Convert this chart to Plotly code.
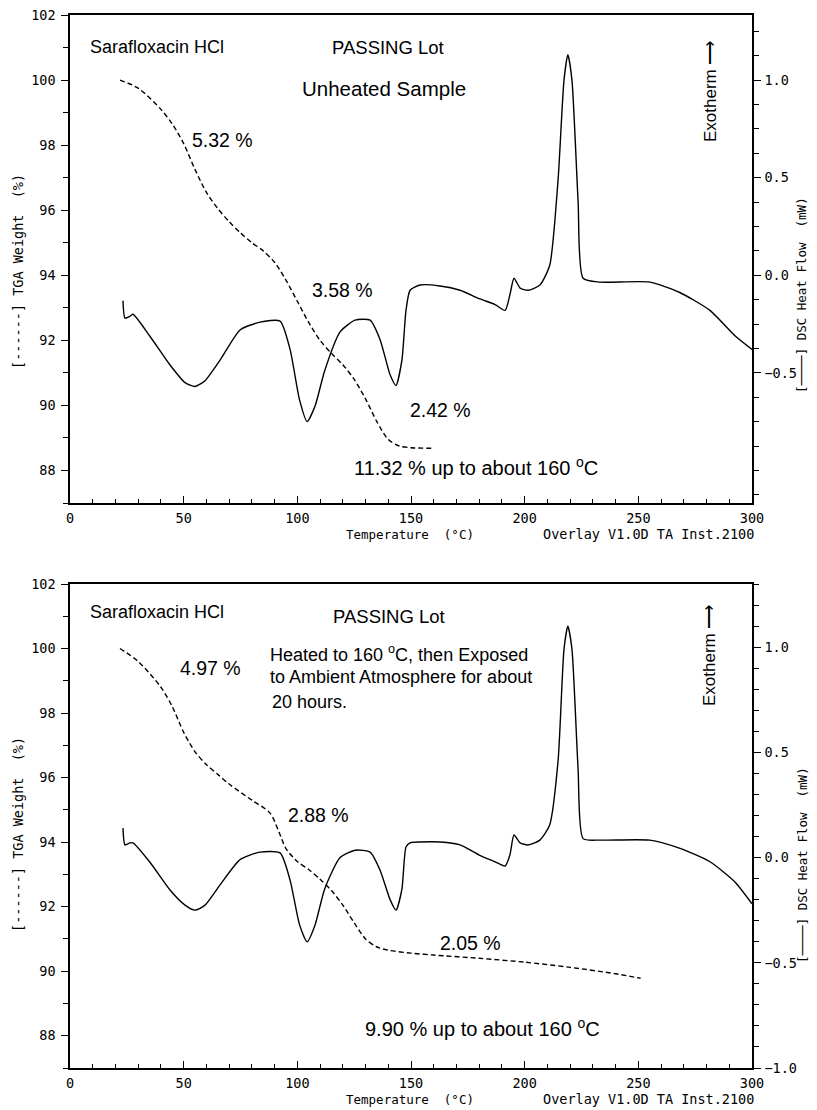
import plotly.graph_objects as go

# ---------------- data ----------------
# Top panel: unheated sample
tga1_T = [22, 30, 40, 45, 50, 55, 60, 65, 70, 75, 80, 85, 90, 95, 100, 105, 110, 115, 120, 125, 130, 135, 140, 145, 150, 160]
tga1_W = [100.0, 99.75, 99.1, 98.65, 98.05, 97.25, 96.55, 96.05, 95.65, 95.3, 95.0, 94.75, 94.4, 93.85, 93.2, 92.55, 92.0, 91.6,
          91.25, 90.8, 90.2, 89.5, 88.95, 88.75, 88.7, 88.68]

dsc1_T = [23.3, 24.2, 26.4, 27.7, 35, 44, 50.6, 55, 59.4, 66, 74.8, 83.6, 92.4, 96.8, 101, 104.3, 107.8, 112, 118.8, 125.4, 132, 136.4,
          140.8, 143.4, 146, 147.8, 149.6, 154, 162.8, 171.6, 180, 187, 191.4, 193.5, 195.3, 198, 201.5, 206.7, 211, 214.7, 217.3, 219,
          220.8, 223.5, 225.7, 233, 255, 268, 281.5, 292.5, 300]
dsc1_H = [-0.13, -0.22, -0.21, -0.2, -0.31, -0.46, -0.55, -0.57, -0.54, -0.435, -0.28, -0.24, -0.235, -0.38, -0.64, -0.75, -0.67, -0.49,
          -0.29, -0.23, -0.23, -0.33, -0.51, -0.565, -0.435, -0.18, -0.077, -0.05, -0.055, -0.077, -0.12, -0.15, -0.18, -0.1, -0.015,
          -0.066, -0.077, -0.05, 0.05, 0.49, 1.0, 1.13, 1.0, 0.38, -0.015, -0.035, -0.035, -0.087, -0.18, -0.31, -0.38]

# Bottom panel: heated to 160 C then exposed ~20 h
tga2_T = [22, 30, 40, 45, 50, 55, 60, 65, 70, 80, 88, 92, 95, 100, 105, 110, 115, 120, 125, 130, 135, 140, 150, 160, 180, 200, 220, 240, 251]
tga2_W = [100.0, 99.6, 98.8, 98.2, 97.4, 96.8, 96.4, 96.1, 95.8, 95.3, 94.9, 94.3, 93.8, 93.4, 93.15, 92.85, 92.5, 92.05, 91.5, 91.0,
          90.75, 90.65, 90.56, 90.5, 90.4, 90.28, 90.12, 89.92, 89.78]

dsc2_T = dsc1_T
dsc2_H = [0.14, 0.06, 0.07, 0.07, -0.02, -0.154, -0.226, -0.25, -0.226, -0.13, -0.01, 0.026, 0.022, -0.107, -0.32, -0.4, -0.32, -0.15,
          0.0, 0.035, 0.026, -0.06, -0.2, -0.25, -0.15, 0.05, 0.07, 0.074, 0.074, 0.06, 0.012, -0.02, -0.04, 0.012, 0.107, 0.07, 0.06,
          0.083, 0.155, 0.46, 0.99, 1.1, 0.99, 0.42, 0.09, 0.083, 0.083, 0.045, -0.02, -0.116, -0.22]

x_ticks = [0, 50, 100, 150, 200, 250, 300]
tga_ticks = [88, 90, 92, 94, 96, 98, 100, 102]
dsc_ticks_top = [-0.5, 0.0, 0.5, 1.0]
dsc_ticks_bot = [-1.0, -0.5, 0.0, 0.5, 1.0]

# ---------------- figure ----------------
OFF = 8                      # page body margin of the browser
W, H = 817 - OFF, 1110 - OFF
L, R, T, B = 62, 65, 7, 42
PW, PH = W - L - R, H - T - B


def P(px, py):
    """page pixel -> paper coords"""
    return (px - OFF - L) / PW, (H - B - (py - OFF)) / PH


top_dom = [P(0, 503)[1], 1.0]
bot_dom = [0.0, P(0, 584)[1]]

fig = go.Figure()
line = dict(color="black", width=1.4)
dline = dict(color="black", width=1.4, dash="5px,3px")

fig.add_trace(go.Scatter(x=tga1_T, y=tga1_W, mode="lines", line=dict(**dline, shape="spline", smoothing=0.8), xaxis="x", yaxis="y"))
fig.add_trace(go.Scatter(x=dsc1_T, y=dsc1_H, mode="lines", line=dict(**line, shape="spline", smoothing=0.6), xaxis="x", yaxis="y2"))
fig.add_trace(go.Scatter(x=tga2_T, y=tga2_W, mode="lines", line=dict(**dline, shape="spline", smoothing=0.8), xaxis="x2", yaxis="y3"))
fig.add_trace(go.Scatter(x=dsc2_T, y=dsc2_H, mode="lines", line=dict(**line, shape="spline", smoothing=0.6), xaxis="x2", yaxis="y4"))

mono = dict(family="DejaVu Sans Mono", size=13.5, color="black")
sans = "Liberation Sans"

xcommon = dict(range=[0, 300], tickvals=x_ticks, ticks="inside", ticklen=7, tickwidth=1.2, tickcolor="black",
               showline=True, linecolor="black", linewidth=1.5, mirror=True, showgrid=False, zeroline=False,
               tickfont=mono, ticklabelstandoff=2, ticklabeloverflow="allow",
               minor=dict(dtick=10, ticks="inside", ticklen=4, tickcolor="black", tickwidth=1))
ycommon = dict(range=[87, 102], tickvals=tga_ticks, ticks="outside", ticklen=7, tickwidth=1.2, tickcolor="black",
               showline=True, linecolor="black", linewidth=1.5, showgrid=False, zeroline=False, tickfont=mono,
               ticklabelstandoff=3, ticklabeloverflow="allow",
               minor=dict(dtick=1, ticks="outside", ticklen=5, tickcolor="black", tickwidth=1))
rcommon = dict(side="right", tickformat=".1f", ticks="outside", ticklen=7, tickwidth=1.2,
               tickcolor="black", showline=True, linecolor="black", linewidth=1.5, showgrid=False, zeroline=False,
               tickfont=mono, ticklabelstandoff=1, ticklabeloverflow="allow")

fig.update_layout(
    width=W, height=H, margin=dict(l=L, r=R, t=T, b=B, autoexpand=False), showlegend=False,
    paper_bgcolor="white", plot_bgcolor="white",
    xaxis=dict(**xcommon, anchor="y", domain=[0, 1]),
    yaxis=dict(**ycommon, domain=top_dom, anchor="x"),
    yaxis2=dict(**rcommon, tickvals=dsc_ticks_top, range=[-1.1667, 1.3333], overlaying="y", anchor="x",
                minor=dict(dtick=0.125, tick0=0, ticks="outside", ticklen=5, tickcolor="black", tickwidth=1)),
    xaxis2=dict(**xcommon, anchor="y3", domain=[0, 1]),
    yaxis3=dict(**ycommon, domain=bot_dom, anchor="x2"),
    yaxis4=dict(**rcommon, tickvals=dsc_ticks_bot, range=[-1.0, 1.3], overlaying="y3", anchor="x2",
                minor=dict(dtick=0.1, tick0=0, ticks="outside", ticklen=5, tickcolor="black", tickwidth=1)),
)


def ann(text, px, py, size=16, family=sans, angle=0, xanchor="center"):
    x, y = P(px, py)
    fig.add_annotation(text=text, x=x, y=y, xref="paper", yref="paper", showarrow=False, textangle=angle,
                       xanchor=xanchor, yanchor="middle", font=dict(family=family, size=size, color="black"))


# top panel texts
ann("Sarafloxacin HCl", 88, 47, 18, xanchor="left")
ann("PASSING Lot", 388, 47, 18.5)
ann("Unheated Sample", 384, 88, 20.5)
ann("Exotherm \u27f6", 711, 92, 17, angle=-90)
ann("5.32 %", 222, 140, 19.5)
ann("3.58 %", 342, 290, 19.5)
ann("2.42 %", 440, 410, 19.5)
ann("11.32 % up to about 160 <sup>o</sup>C", 476, 467, 20)

# bottom panel texts
ann("Sarafloxacin HCl", 88, 612, 18, xanchor="left")
ann("PASSING Lot", 389, 617, 18.5)
ann("Heated to 160 <sup>o</sup>C, then Exposed", 268, 653, 18, xanchor="left")
ann("to Ambient Atmosphere for about", 268, 677, 18, xanchor="left")
ann("20 hours.", 270, 702, 18, xanchor="left")
ann("Exotherm \u27f6", 709, 656, 17, angle=-90)
ann("4.97 %", 210, 668, 19.5)
ann("2.88 %", 318, 815, 19.5)
ann("2.05 %", 470, 943, 19.5)
ann("9.90 % up to about 160 <sup>o</sup>C", 482, 1027, 20)

# axis titles (plotter font)
for py_lab, py_r, py_x in [(272, 295, 534), (835, 865, 1099)]:
    ann("[------] TGA Weight  (%)", 18, py_lab, 13.5, family="DejaVu Sans Mono", angle=-90)
    ann("[\u2500\u2500\u2500\u2500] DSC Heat Flow  (mW)", 802, py_r, 12.5, family="DejaVu Sans Mono", angle=-90)
    ann("Temperature  (\u00b0C)", 410, py_x, 12.5, family="DejaVu Sans Mono")
    ann("Overlay V1.0D TA Inst.2100", 648, py_x, 13.5, family="DejaVu Sans Mono")

fig.write_html("out.html")
